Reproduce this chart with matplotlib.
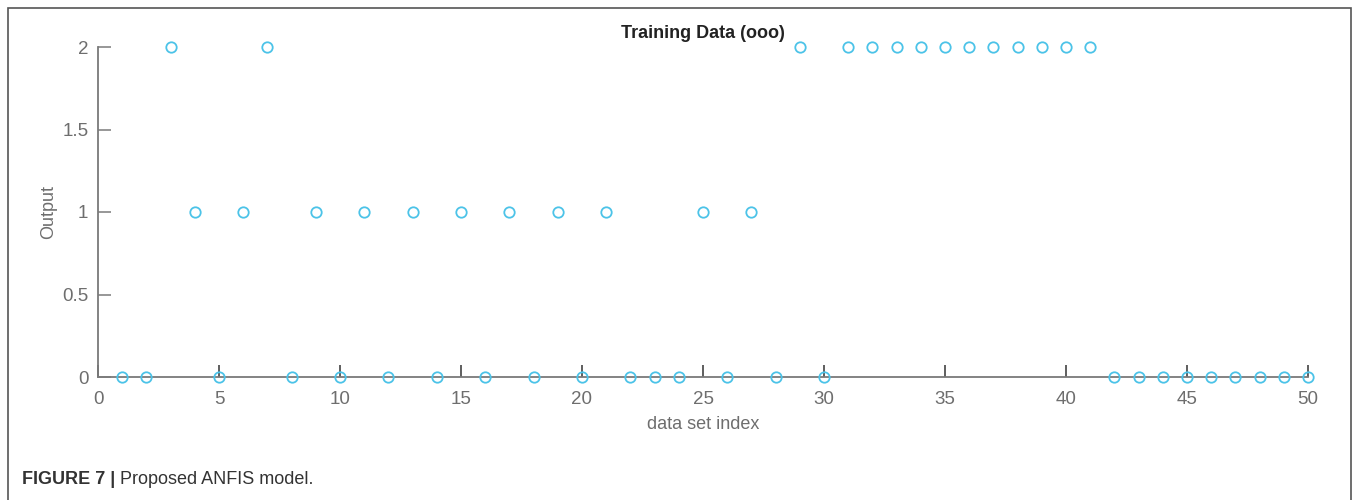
import numpy as np
import matplotlib
matplotlib.use("Agg")
import matplotlib.pyplot as plt
from matplotlib.patches import Rectangle

# datos de entrenamiento
idx = np.arange(1, 51)
salida = [0, 0, 2, 1, 0, 1, 2, 0, 1, 0,
          1, 0, 1, 0, 1, 0, 1, 0, 1, 0,
          1, 0, 0, 0, 1, 0, 1, 0, 2, 0,
          2, 2, 2, 2, 2, 2, 2, 2, 2, 2,
          2, 0, 0, 0, 0, 0, 0, 0, 0, 0]
xticks = [0, 5, 10, 15, 20, 25, 30, 35, 40, 45, 50]
yticks = [0, 0.5, 1, 1.5, 2]
yticklabels = ["0", "0.5", "1", "1.5", "2"]

plt.rcParams['font.family'] = ['Liberation Sans', 'DejaVu Sans']
gris = '#6e6e6e'

fig = plt.figure(figsize=(13.57, 5.0), dpi=100)

# marco exterior
fig.patches.append(Rectangle((8/1357, -0.1), 1343/1357, 1.1 - 8/500,
                             transform=fig.transFigure, fill=False,
                             edgecolor='#555555', linewidth=1.2))

ax = fig.add_axes([98/1357, 1 - 377/500, 1210/1357, 330/500])
ax.plot(idx, salida, 'o', markerfacecolor='none', markeredgecolor='#4cc3e8',
        markersize=7.5, markeredgewidth=1.3, clip_on=False, zorder=3)
ax.set_xlim(0, 50)
ax.set_ylim(0, 2)
ax.set_xticks(xticks)
ax.set_yticks(yticks)
ax.set_yticklabels(yticklabels)
ax.spines['top'].set_visible(False)
ax.spines['right'].set_visible(False)
for s in ['left', 'bottom']:
    ax.spines[s].set_color('#7a7a7a')
    ax.spines[s].set_linewidth(1.3)
ax.tick_params(axis='both', direction='in', length=9, width=1.1,
               labelsize=13.5, labelcolor=gris)
ax.tick_params(axis='x', colors='#333333', labelcolor=gris, pad=10)
ax.tick_params(axis='y', colors='#7a7a7a', labelcolor=gris, pad=7)
ax.set_xlabel('data set index', fontsize=13, color=gris, labelpad=6)
ax.set_ylabel('Output', fontsize=13, color=gris, va='center')
ax.yaxis.set_label_coords(-49/1210, 0.5)

fig.text(703/1357, 1 - 33/500, 'Training Data (ooo)', fontsize=13,
         fontweight='bold', color='#222222', ha='center', va='center')

# leyenda de la figura
t = fig.text(22/1357, 1 - 479/500, 'FIGURE 7 | ', fontsize=13,
             fontweight='bold', color='#333333', ha='left', va='center')
fig.canvas.draw()
bb = t.get_window_extent()
fig.text(bb.x1 / 1357, 1 - 479/500, 'Proposed ANFIS model.', fontsize=13,
         color='#333333', ha='left', va='center')

fig.savefig('out.png', dpi=100)
